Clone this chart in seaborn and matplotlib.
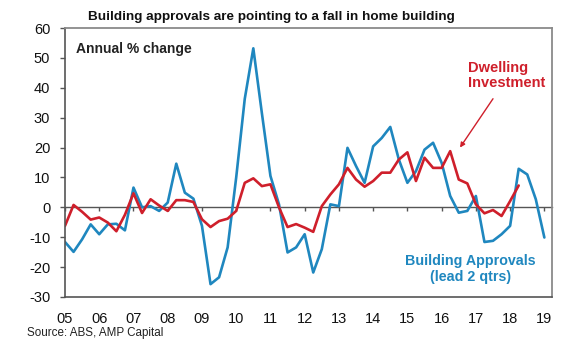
import numpy as np
import pandas as pd
import matplotlib
matplotlib.use("Agg")
import matplotlib.pyplot as plt
import seaborn as sns

# ---- data (annual % change, quarterly, from 2005Q1) ----
approvals = [-11.6, -14.9, -10.7, -5.7, -9.0, -5.7, -5.5, -7.7, 6.6, 0.0,
             0.4, -1.2, 1.6, 14.6, 4.9, 2.9, -6.2, -25.7, -23.4, -13.4,
             10.0, 36.3, 53.2, 31.5, 10.5, 1.0, -15.1, -13.4, -9.0, -21.8,
             -14.0, 1.0, 0.4, 19.9, 13.8, 8.2, 20.4, 23.2, 26.9, 16.0,
             8.2, 12.1, 19.3, 21.6, 14.9, 3.8, -1.8, -1.2, 3.8, -11.6,
             -11.2, -9.0, -6.2, 12.9, 11.0, 2.7, -10.1]
investment = [-6.2, 0.8, -1.5, -4.1, -3.4, -5.1, -8.0, -2.5, 4.7, -1.9,
              2.7, 0.6, -1.2, 2.4, 2.4, 1.8, -4.0, -6.6, -4.6, -3.8,
              -1.2, 8.2, 9.7, 7.1, 7.7, 0.0, -6.6, -5.6, -6.8, -8.2,
              0.4, 4.3, 7.7, 13.2, 9.3, 6.9, 8.8, 11.6, 11.6, 16.0,
              18.4, 8.8, 16.6, 13.2, 13.2, 18.8, 9.3, 8.0, 1.0, -2.0,
              -0.9, -2.9, 2.1, 7.3]
start_quarter = "2005Q1"
year_ticks = list(range(2005, 2020))
year_labels = [f"{y % 100:02d}" for y in year_ticks]
y_ticks = [-30, -20, -10, 0, 10, 20, 30, 40, 50, 60]

BLUE = "#1f87bf"
RED = "#cf1f2b"

def qpos(n):
    p = pd.period_range(start_quarter, periods=n, freq="Q")
    return p.year + (p.quarter - 1) / 4.0

df = pd.concat([
    pd.DataFrame({"x": qpos(len(approvals)), "v": approvals, "s": "Building Approvals"}),
    pd.DataFrame({"x": qpos(len(investment)), "v": investment, "s": "Dwelling Investment"}),
])

sns.set_theme(style="white")
plt.rcParams["font.family"] = ["Liberation Sans", "DejaVu Sans"]

fig = plt.figure(figsize=(5.8, 3.52), dpi=100)
ax = fig.add_axes([65 / 580, 1 - 297 / 352, (552 - 65) / 580, (297 - 28) / 352])

sns.lineplot(data=df, x="x", y="v", hue="s",
             palette={"Building Approvals": BLUE, "Dwelling Investment": RED},
             hue_order=["Building Approvals", "Dwelling Investment"],
             linewidth=1.9, legend=False, ax=ax, sort=False)

ax.set_xlim(2005, 2005 + 487 / 34.24)
ax.set_ylim(-30, 60)
ax.set_xlabel("")
ax.set_ylabel("")

ax.set_yticks(y_ticks)
ax.set_yticklabels([str(t) for t in y_ticks])
ax.set_xticks(year_ticks)
ax.set_xticklabels(year_labels)
ax.tick_params(axis="y", left=True, direction="out", length=3.6, width=1,
               color="#555555", labelsize=10.5, pad=7, labelcolor="#111111")
ax.tick_params(axis="x", bottom=False, length=0, labelsize=10.5, pad=11,
               labelcolor="#111111")

for side in ["left", "bottom"]:
    ax.spines[side].set_color("#555555")
    ax.spines[side].set_linewidth(1.2)
for side in ["top", "right"]:
    ax.spines[side].set_color("#8a8a8a")
    ax.spines[side].set_linewidth(1.3)

# zero line with downward year ticks
sec = ax.secondary_xaxis(1 / 3)
sec.set_xticks(year_ticks)
sec.tick_params(axis="x", direction="out", length=3, width=1, color="#555555",
                labelbottom=False, labeltop=False)
for sp in sec.spines.values():
    sp.set_color("#555555")
    sp.set_linewidth(1.0)

# texts
fig.text(271.5 / 580, 1 - 17 / 352,
         "Building approvals are pointing to a fall in home building",
         ha="center", va="center", fontsize=9.7, fontweight="bold", color="#111111")
fig.text(76 / 580, 1 - 49 / 352, "Annual % change", ha="left", va="center",
         fontsize=10, fontweight="bold", color="#222222")
fig.text(468 / 580, 1 - 75.5 / 352, "Dwelling\nInvestment", ha="left", va="center",
         fontsize=10.5, fontweight="bold", color=RED, linespacing=1.05)
fig.text(470.5 / 580, 1 - 269 / 352, "Building Approvals\n(lead 2 qtrs)", ha="center",
         va="center", fontsize=10.3, fontweight="bold", color=BLUE, linespacing=1.25)
fig.text(27 / 580, 1 - 333 / 352, "Source: ABS, AMP Capital", ha="left", va="center",
         fontsize=8.4, color="#222222")

ax.annotate("", xy=(2005 + 395 / 34.24, (208 - 148) / 3),
            xytext=(2005 + 428 / 34.24, (208 - 99) / 3),
            arrowprops=dict(arrowstyle="-|>", color=RED, lw=1.0,
                            mutation_scale=7, shrinkA=0, shrinkB=0))

fig.savefig("out.png", dpi=100)
